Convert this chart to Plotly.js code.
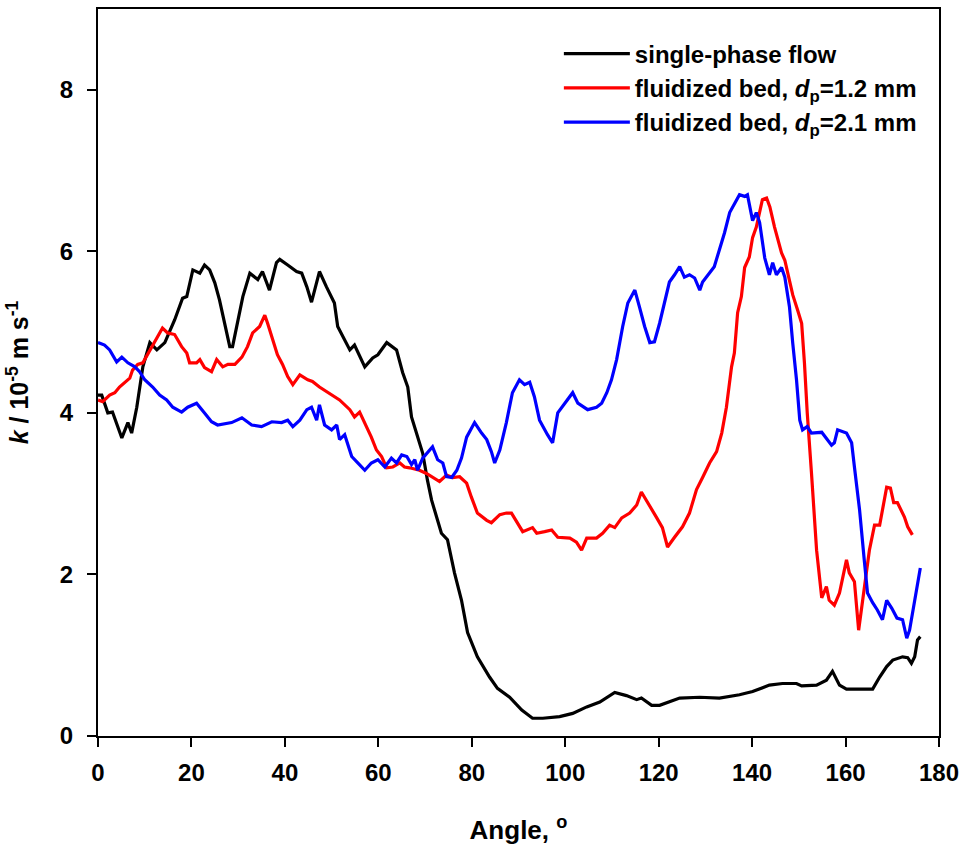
<!DOCTYPE html>
<html>
<head>
<meta charset="utf-8">
<script src="https://cdn.plot.ly/plotly-3.0.1.min.js"></script>
<style>html,body{margin:0;padding:0;background:#fff;}#chart{width:962px;height:847px;}</style>
</head>
<body>
<div id="chart"></div>
<script>
// Single-phase flow
var angleSingle = [0,0.8,2.1,3.1,5.1,6.4,7.2,8.3,9.6,11.1,12.6,14.3,16.4,18.1,19.0,20.3,21.8,22.8,23.9,25.0,26.0,27.1,28.2,28.8,29.9,31.0,32.5,34.2,35.2,36.7,38.2,38.9,40.6,42.5,43.6,44.7,45.7,47.4,48.9,50.6,51.3,52.8,53.9,54.9,57.1,58.8,59.9,61.8,63.9,65.2,66.3,67.1,68.2,69.5,70.5,71.4,73.5,74.8,76.3,77.8,79.1,81.2,83.8,85.5,88.1,90.7,93.0,95.2,98.8,101.6,104.6,107.4,110.6,113.1,115.3,116.3,118.5,120.2,124.5,128.8,133.0,137.3,140.1,143.7,146.5,149.5,150.6,153.8,155.9,157.2,158.7,160.2,165.8,167.3,168.8,170.1,172.2,173.3,174.1,174.8,175.4,176.0];
var kSingle = [4.22,4.22,4.0,4.01,3.69,3.88,3.75,4.07,4.57,4.87,4.78,4.87,5.15,5.42,5.44,5.77,5.73,5.83,5.77,5.61,5.4,5.11,4.82,4.82,5.11,5.44,5.73,5.65,5.75,5.52,5.86,5.9,5.83,5.75,5.73,5.56,5.37,5.75,5.56,5.36,5.07,4.9,4.78,4.84,4.57,4.68,4.72,4.87,4.78,4.5,4.32,3.95,3.75,3.5,3.17,2.92,2.51,2.43,2.02,1.68,1.28,0.98,0.73,0.59,0.48,0.32,0.22,0.22,0.24,0.28,0.36,0.42,0.54,0.5,0.45,0.47,0.38,0.38,0.47,0.48,0.47,0.51,0.55,0.63,0.65,0.65,0.62,0.63,0.69,0.8,0.63,0.58,0.58,0.73,0.86,0.94,0.98,0.97,0.9,0.98,1.19,1.23];

// Fluidized bed, dp = 1.2 mm
var angleBed12 = [0,1.0,2.5,3.6,4.6,5.7,6.8,7.4,8.5,9.6,10.6,11.7,12.8,13.8,14.9,16.4,17.9,19.0,19.6,21.1,21.8,22.8,24.3,25.4,26.7,27.8,29.3,30.8,32.0,33.1,34.6,35.7,36.3,37.4,38.4,39.5,40.6,41.7,43.2,44.9,45.9,47.4,50.0,51.7,53.9,54.9,56.0,57.5,58.5,59.6,60.7,61.8,63.1,64.6,65.6,66.7,68.8,70.3,71.6,73.1,74.6,75.9,77.4,78.9,79.9,81.2,83.2,84.2,86.0,87.4,88.5,89.6,90.9,93.0,93.9,95.6,97.1,98.4,101.0,102.4,103.5,104.6,106.7,108.0,109.5,110.6,112.1,113.8,115.3,116.3,117.6,119.5,120.8,121.9,123.4,125.1,126.6,128.1,129.4,130.9,132.4,133.5,134.5,135.6,136.2,136.9,137.7,138.4,139.4,140.1,140.9,141.6,142.2,143.1,143.8,144.8,146.3,147.0,148.0,148.7,149.7,150.6,151.2,151.8,152.7,153.8,154.9,155.9,156.5,157.6,158.7,160.2,160.8,161.9,162.8,163.6,165.1,166.2,167.3,168.8,169.6,170.3,171.1,172.6,173.3,174.3];
var kBed12 = [4.16,4.14,4.22,4.25,4.32,4.37,4.43,4.53,4.6,4.62,4.72,4.84,4.94,5.05,4.99,4.97,4.82,4.74,4.62,4.62,4.66,4.56,4.51,4.66,4.57,4.6,4.6,4.69,4.82,4.99,5.07,5.21,5.11,4.9,4.72,4.6,4.45,4.35,4.47,4.41,4.39,4.32,4.22,4.16,4.04,3.95,4.01,3.83,3.7,3.54,3.46,3.32,3.33,3.38,3.33,3.32,3.29,3.25,3.2,3.15,3.23,3.2,3.21,3.13,2.96,2.76,2.67,2.64,2.74,2.76,2.76,2.65,2.53,2.58,2.51,2.53,2.55,2.46,2.45,2.4,2.3,2.45,2.45,2.51,2.61,2.58,2.7,2.76,2.86,3.02,2.9,2.71,2.58,2.34,2.46,2.59,2.76,3.05,3.2,3.38,3.52,3.75,4.07,4.57,4.74,5.24,5.44,5.8,5.93,6.17,6.3,6.48,6.64,6.66,6.55,6.3,5.98,5.89,5.61,5.46,5.28,5.11,4.62,4.0,3.26,2.3,1.71,1.85,1.68,1.62,1.77,2.18,2.02,1.91,1.31,1.68,2.3,2.61,2.61,3.08,3.07,2.89,2.89,2.71,2.59,2.49];

// Fluidized bed, dp = 2.1 mm
var angleBed21 = [0,1.4,2.5,4.0,5.1,6.4,7.9,8.9,10.0,11.7,13.2,14.7,16.0,17.9,19.2,21.1,22.8,24.3,25.6,28.6,30.8,32.9,35.0,37.2,39.3,40.6,41.7,43.2,44.7,45.7,46.8,47.4,48.5,50.0,51.1,51.7,52.8,54.3,55.6,57.1,58.5,59.9,61.4,62.8,63.9,65.0,66.1,67.1,67.8,68.4,69.5,70.5,71.6,72.7,73.8,74.6,75.7,76.8,77.8,78.9,80.6,82.1,83.2,84.2,84.9,86.0,87.4,88.7,90.2,91.3,92.4,93.4,94.5,96.2,97.3,98.4,100.3,101.6,102.7,104.8,106.7,107.8,108.9,109.9,111.0,112.3,113.4,114.4,114.9,115.9,117.0,118.1,119.1,120.2,121.3,122.3,123.4,124.5,125.5,126.6,127.7,128.8,129.4,130.9,131.9,133.0,134.1,135.2,136.2,137.3,138.4,139.0,140.1,140.9,141.6,142.7,143.7,144.4,145.2,146.3,147.0,148.0,148.7,149.5,150.2,150.8,151.8,152.7,154.9,157.0,157.6,158.3,160.2,161.3,161.9,163.0,164.0,164.7,165.8,166.8,167.9,168.8,169.9,171.0,172.2,173.1,173.7,174.8,176.0];
var kBed21 = [4.87,4.84,4.78,4.63,4.69,4.62,4.57,4.51,4.41,4.32,4.22,4.16,4.07,4.01,4.07,4.12,4.0,3.89,3.85,3.88,3.94,3.85,3.83,3.89,3.88,3.91,3.83,3.91,4.04,4.07,3.91,4.1,3.85,3.79,3.85,3.67,3.73,3.46,3.38,3.29,3.38,3.42,3.33,3.44,3.38,3.48,3.46,3.36,3.42,3.29,3.44,3.5,3.58,3.42,3.38,3.21,3.2,3.29,3.44,3.7,3.88,3.75,3.67,3.52,3.38,3.54,3.88,4.25,4.41,4.35,4.38,4.2,3.91,3.73,3.63,4.0,4.14,4.25,4.12,4.04,4.07,4.12,4.25,4.41,4.66,5.07,5.36,5.46,5.52,5.31,5.07,4.87,4.88,5.11,5.4,5.62,5.71,5.81,5.68,5.71,5.67,5.52,5.62,5.73,5.81,6.02,6.23,6.48,6.58,6.7,6.68,6.7,6.38,6.48,6.36,5.92,5.71,5.86,5.71,5.8,5.68,5.31,4.86,4.41,3.91,3.79,3.83,3.75,3.76,3.6,3.63,3.79,3.75,3.63,3.33,2.8,2.18,1.77,1.65,1.56,1.44,1.68,1.58,1.46,1.44,1.21,1.31,1.68,2.08];

var seriesNames = ['single-phase flow', 'fluidized bed, <i>d</i><sub>p</sub>=1.2 mm', 'fluidized bed, <i>d</i><sub>p</sub>=2.1 mm'];
var xTicks = [0,20,40,60,80,100,120,140,160,180];
var yTicks = [0,2,4,6,8];

var FONT = 'Liberation Sans, Arial, Helvetica, sans-serif';

var traces = [
  {x: angleSingle, y: kSingle, name: seriesNames[0], mode: 'lines', line: {color: '#000000', width: 3.2}},
  {x: angleBed12, y: kBed12, name: seriesNames[1], mode: 'lines', line: {color: '#ff0000', width: 3.2}},
  {x: angleBed21, y: kBed21, name: seriesNames[2], mode: 'lines', line: {color: '#0000ff', width: 3.2}}
];

var axisCommon = {
  showgrid: false, zeroline: false, showline: true, mirror: true,
  linecolor: '#000', linewidth: 2, ticks: 'outside', ticklen: 9, tickwidth: 2, tickcolor: '#000',
  tickfont: {family: FONT, size: 24, color: '#000', weight: 'bold'}
};

var layout = {
  width: 962, height: 847,
  margin: {l: 98, r: 23, t: 9, b: 111},
  paper_bgcolor: '#ffffff', plot_bgcolor: '#ffffff',
  font: {family: FONT, color: '#000'},
  showlegend: true,
  legend: {
    x: 0.548, y: 0.969, xanchor: 'left', yanchor: 'top',
    bgcolor: 'rgba(0,0,0,0)', borderwidth: 0,
    itemwidth: 66,
    font: {family: FONT, size: 24, color: '#000', weight: 'bold'},
    tracegroupgap: 0
  },
  xaxis: Object.assign({}, axisCommon, {
    range: [0, 180], tickvals: xTicks, ticktext: xTicks.map(String),
    ticklabelstandoff: 5,
    title: {text: 'Angle, <sup>o</sup>', font: {family: FONT, size: 26, color: '#000', weight: 'bold'}, standoff: 36}
  }),
  yaxis: Object.assign({}, axisCommon, {
    range: [0, 9], tickvals: yTicks, ticktext: yTicks.map(String),
    ticklabelstandoff: 9,
    title: {text: '<i>k</i> / 10<sup>-5</sup> m s<sup>-1</sup>', font: {family: FONT, size: 25, color: '#000', weight: 'bold'}, standoff: 24}
  })
};

Plotly.newPlot('chart', traces, layout, {displayModeBar: false, staticPlot: true});
</script>
</body>
</html>
